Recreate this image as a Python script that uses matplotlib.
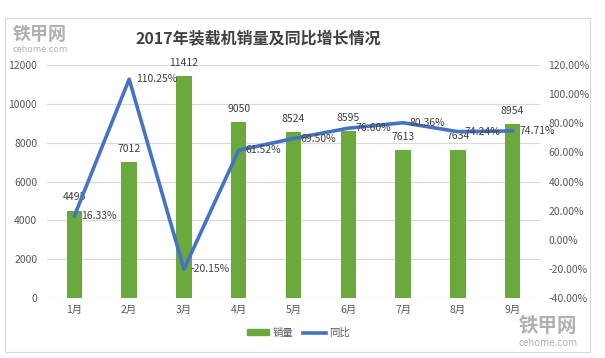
import matplotlib.pyplot as plt
from matplotlib.patches import Rectangle
from matplotlib.lines import Line2D
from matplotlib.patches import Patch
import numpy as np

plt.rcParams['font.family'] = ['Noto Sans CJK SC', 'DejaVu Sans']

months = ['1月', '2月', '3月', '4月', '5月', '6月', '7月', '8月', '9月']
sales = [4495, 7012, 11412, 9050, 8524, 8595, 7613, 7634, 8954]
yoy = [16.33, 110.25, -20.15, 61.52, 69.50, 76.60, 80.36, 74.24, 74.71]

W, H = 605, 358
fig = plt.figure(figsize=(W / 100, H / 100), dpi=100)

# light frame round the chart
fig.patches.append(Rectangle((5 / W, 1 - 352 / H), 585 / W, 334 / H,
                             transform=fig.transFigure, fill=False,
                             edgecolor='#d9d9d9', linewidth=0.8))

ax1 = fig.add_axes([47 / W, 1 - 298 / H, 493 / W, 233 / H])
ax2 = ax1.twinx()

x = np.arange(len(months))
ax1.bar(x, sales, width=0.28, color='#6aa93c', zorder=2)
ax1.set_ylim(0, 12000)
ax1.set_yticks(range(0, 12001, 2000))
ax1.set_xlim(-0.5, len(months) - 0.5)
ax1.set_xticks(x)
ax1.set_xticklabels(months)
ax1.grid(axis='y', color='#d9d9d9', linewidth=0.8, zorder=0)
ax1.set_axisbelow(True)

ax2.plot(x, yoy, color='#4472c4', linewidth=2.6, zorder=3)
ax2.set_ylim(-40, 120)
ax2.set_yticks(range(-40, 121, 20))
ax2.set_yticklabels([f'{v:.2f}%' for v in range(-40, 121, 20)])

for a in (ax1, ax2):
    for s in a.spines.values():
        s.set_visible(False)
    a.tick_params(length=0, labelsize=7.5, colors='#595959')
ax1.tick_params(axis='y', pad=7)
ax1.tick_params(axis='x', pad=5)
ax2.tick_params(axis='y', pad=6)

for xi, v in zip(x, sales):
    ax1.annotate(str(v), (xi, v), xytext=(0, 6), textcoords='offset points',
                 ha='center', va='bottom', fontsize=7.5, color='#404040')
for xi, v in zip(x, yoy):
    ax2.annotate(f'{v:.2f}%', (xi, v), xytext=(5, 0), textcoords='offset points',
                 ha='left', va='center', fontsize=7.5, color='#404040', zorder=4)

fig.text(258 / W, 1 - 38 / H, '2017年装载机销量及同比增长情况', ha='center', va='center',
         fontsize=11.5, fontweight='bold', color='#404040')

# watermarks
fig.text(40 / W, 1 - 34 / H, '铁甲网', ha='center', va='center', fontsize=13,
         color='#b0b0b0', fontweight='bold')
fig.text(40 / W, 1 - 49 / H, 'cehome.com', ha='center', va='center', fontsize=6.5,
         color='#b0b0b0')
fig.text(548 / W, 1 - 326 / H, '铁甲网', ha='center', va='center', fontsize=14,
         color='#b0b0b0', fontweight='bold')
fig.text(548 / W, 1 - 343 / H, 'cehome.com', ha='center', va='center', fontsize=7,
         color='#b0b0b0')

handles = [Patch(color='#6aa93c'), Line2D([0], [0], color='#4472c4', linewidth=2.6)]
fig.legend(handles, ['销量', '同比'], loc='center', bbox_to_anchor=(298 / W, 1 - 333 / H),
           ncol=2, frameon=False, fontsize=7.5, handlelength=2.2, handleheight=0.5,
           columnspacing=0.9, handletextpad=0.3, labelcolor='#595959')

fig.savefig('out.png', dpi=100)
